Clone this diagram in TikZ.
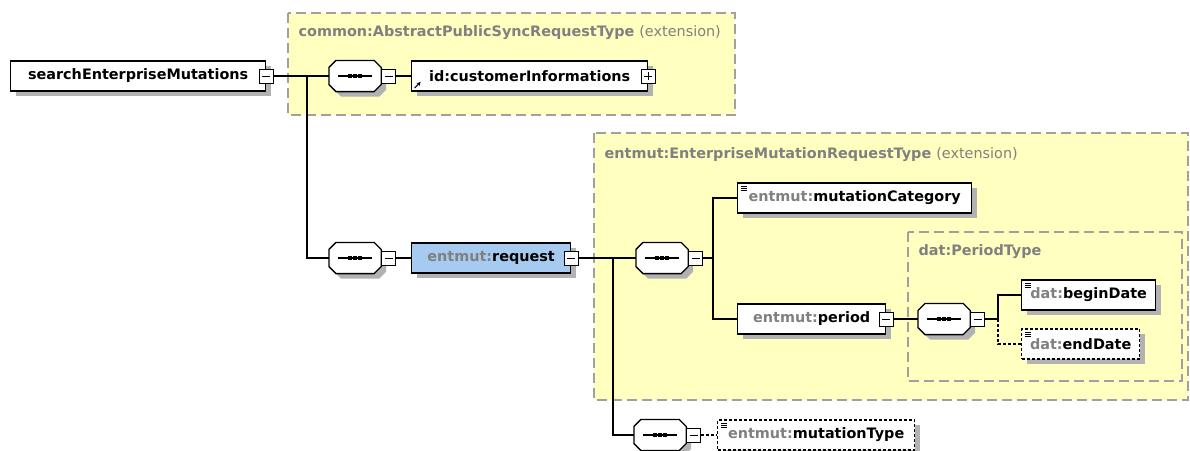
\documentclass[tikz,border=0pt]{standalone}
\usepackage{fontspec}
\setmainfont{DejaVu Sans}
\usetikzlibrary{shadows,arrows.meta}
\definecolor{grpfill}{RGB}{255,255,192}
\definecolor{grpline}{RGB}{160,160,160}
\definecolor{nsgray}{RGB}{128,128,128}
\definecolor{reqblue}{RGB}{166,202,240}
\tikzset{
  shade box/.style={drop shadow={shadow xshift=5pt, shadow yshift=-5pt, fill=black!30, opacity=1}},
  elem/.style={draw, fill=white, line width=1.3pt, minimum height=30pt, anchor=west, shade box},
  optelem/.style={elem, dash pattern=on 3pt off 2pt},
  docmark/.style={path picture={
    \foreach \dy in {3,5,7}
      \draw[solid, line width=0.8pt] ([shift={(3pt,-\dy pt)}]path picture bounding box.north west) -- +(6pt,0pt);}},
  refmark/.style={path picture={
    \draw[line width=1pt,-{Stealth[length=4pt,width=4pt]}] ([shift={(3pt,3pt)}]path picture bounding box.south west) -- +(6pt,6pt);}},
  seqbox/.style={minimum width=51pt, minimum height=30pt, anchor=west,
    append after command={\pgfextra{
      \draw[line width=1.3pt, fill=white, shade box]
        ([xshift=7pt]\tikzlastnode.north west) -- ([xshift=-7pt]\tikzlastnode.north east)
        -- ([yshift=-7pt]\tikzlastnode.north east) -- ([yshift=7pt]\tikzlastnode.south east)
        -- ([xshift=-7pt]\tikzlastnode.south east) -- ([xshift=7pt]\tikzlastnode.south west)
        -- ([yshift=7pt]\tikzlastnode.south west) -- ([yshift=-7pt]\tikzlastnode.north west) -- cycle;
      \draw[line width=1.2pt] ([xshift=9pt]\tikzlastnode.west) -- ([xshift=-9pt]\tikzlastnode.east);
      \foreach \dx in {-5,0,5}
        \fill ([xshift=\dx pt]\tikzlastnode.center) ++(-1.8pt,-1.8pt) rectangle ++(3.6pt,3.6pt);
    }}},
  minusbox/.style={draw, fill=white, line width=1pt, minimum size=14pt, path picture={
    \draw[line width=1pt] ([xshift=3pt]path picture bounding box.west) -- ([xshift=-3pt]path picture bounding box.east);}},
  plusbox/.style={draw, fill=white, line width=1pt, minimum size=14pt, path picture={
    \draw[line width=1pt] ([xshift=3pt]path picture bounding box.west) -- ([xshift=-3pt]path picture bounding box.east);
    \draw[line width=1pt] ([yshift=-3pt]path picture bounding box.north) -- ([yshift=3pt]path picture bounding box.south);}},
  group/.style={draw=grpline, fill=grpfill, line width=1.2pt, dash pattern=on 10pt off 5pt},
  grplabel/.style={anchor=west, text=nsgray}
}
\begin{document}
\begin{tikzpicture}[x=1pt, y=-1pt, line width=1.2pt,
  every node/.style={font=\fontsize{14.4}{16}\selectfont\bfseries, inner sep=0pt}]
\useasboundingbox (0,0) rectangle (1190,450);

% type groups
\draw[group] (288,13) rectangle (735,115);
\draw[group] (594,133) rectangle (1188,400);
\draw[group] (908,232) rectangle (1182,381);
\node[grplabel] (commonlbl) at (298,33) {common:AbstractPublicSyncRequestType \mdseries(extension)};
\node[grplabel] (entmutlbl) at (604,155) {entmut:EnterpriseMutationRequestType \mdseries(extension)};
\node[grplabel] (datlbl) at (918,252) {dat:PeriodType};

% elements
\node[elem, minimum width=255pt] (root) at (10,76) {searchEnterpriseMutations};
\node[minusbox] (rootm) at (root.east) {};
\node[seqbox] (seq1) at (329,76) {};
\node[minusbox, anchor=west] (seq1m) at (seq1.east) {};
\node[elem, refmark, minimum width=236pt] (cust) at (411,76) {id:customerInformations};
\node[plusbox] (custp) at (cust.east) {};

\node[seqbox] (seq2) at (329,258) {};
\node[minusbox, anchor=west] (seq2m) at (seq2.east) {};
\node[elem, fill=reqblue, minimum width=159pt] (req) at (411,258) {\textcolor{nsgray}{entmut:}request};
\node[minusbox] (reqm) at (req.east) {};

\node[seqbox] (seq3) at (636,258) {};
\node[minusbox, anchor=west] (seq3m) at (seq3.east) {};
\node[elem, docmark, minimum width=234pt] (mcat) at (737,198) {\textcolor{nsgray}{entmut:}mutationCategory};
\node[elem, minimum width=148pt] (period) at (737,319) {\textcolor{nsgray}{entmut:}period};
\node[minusbox] (periodm) at (period.east) {};

\node[seqbox] (seq4) at (918,319) {};
\node[minusbox, anchor=west] (seq4m) at (seq4.east) {};
\node[elem, docmark, minimum width=134pt] (begin) at (1021,295) {\textcolor{nsgray}{dat:}beginDate};
\node[optelem, docmark, minimum width=118pt] (end) at (1021,344) {\textcolor{nsgray}{dat:}endDate};

\node[seqbox] (seq5) at (634,435) {};
\node[minusbox, anchor=west] (seq5m) at (seq5.east) {};
\node[optelem, docmark, minimum width=197pt] (mtype) at (717,435) {\textcolor{nsgray}{entmut:}mutationType};

% connectors
\coordinate (j1) at (307,76);
\coordinate (j2) at (613,258);
\coordinate (j3) at (713,258);
\coordinate (j4) at (998,319);
\draw (rootm.east) -- (seq1.west);
\draw (j1) |- (seq2.west);
\draw (seq1m.east) -- (cust.west);
\draw (seq2m.east) -- (req.west);
\draw (reqm.east) -- (seq3.west);
\draw (j2) |- (seq5.west);
\draw (seq3m.east) -- (j3) |- (mcat.west);
\draw (j3) |- (period.west);
\draw (periodm.east) -- (seq4.west);
\draw (seq4m.east) -- (j4) |- (begin.west);
\draw[dash pattern=on 3pt off 2pt] (j4) |- (end.west);
\draw[dash pattern=on 3pt off 2pt] (seq5m.east) -- (mtype.west);
\end{tikzpicture}
\end{document}
